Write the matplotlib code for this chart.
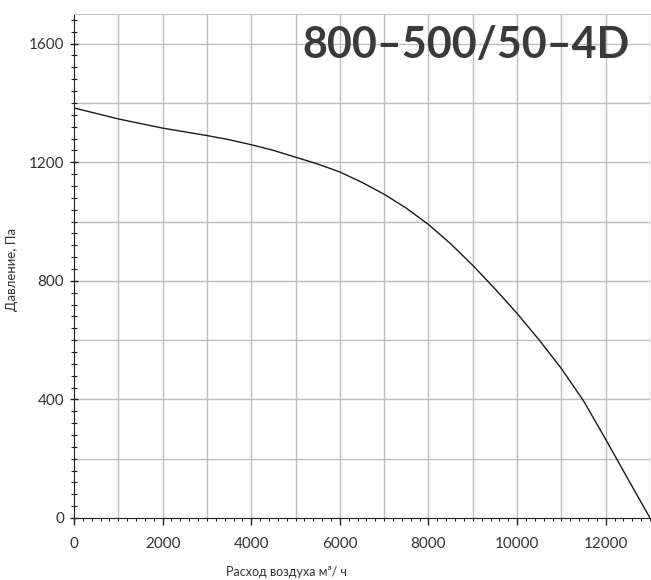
import matplotlib.pyplot as plt
from matplotlib.ticker import MultipleLocator

# расход, м3/ч и давление, Па
rashod = [0, 1000, 2000, 3000, 3500, 4000, 4500, 5000, 5500, 6000, 6500, 7000, 7500, 8000,
          8500, 9000, 9500, 10000, 10500, 11000, 11500, 12000, 12500, 13000]
davlenie = [1383, 1346, 1315, 1290, 1276, 1259, 1240, 1217, 1194, 1167, 1132, 1092, 1045, 990,
            925, 852, 773, 690, 600, 504, 395, 265, 132, 0]

xticks = [0, 2000, 4000, 6000, 8000, 10000, 12000]
yticks = [0, 400, 800, 1200, 1600]
title = '800–500/50–4D'

plt.rcParams['font.family'] = ['Lato', 'DejaVu Sans']

fig = plt.figure(figsize=(6.51, 5.80), dpi=100)
ax = fig.add_axes([0.1137, 0.1069, 0.8848, 0.869])

ax.plot(rashod, davlenie, color='#1a1a1a', linewidth=1.0, zorder=3)

ax.set_xlim(0, 13000)
ax.set_ylim(0, 1700)
ax.set_xticks(xticks)
ax.set_yticks(yticks)
ax.xaxis.set_minor_locator(MultipleLocator(200))
ax.yaxis.set_minor_locator(MultipleLocator(40))

# сетка
for gx in range(1000, 13001, 1000):
    ax.axvline(gx, color='#bdbdbd', linewidth=1.0, zorder=1)
for gy in range(200, 1700, 200):
    ax.axhline(gy, color='#bdbdbd', linewidth=1.0, zorder=1)

ax.spines['right'].set_visible(False)
ax.spines['top'].set_color('#c8c8c8')
ax.spines['left'].set_color('#222222')
ax.spines['bottom'].set_color('#222222')

ax.tick_params(axis='x', which='major', direction='out', length=5, width=1, pad=9,
               labelsize=11, colors='#222222', labelcolor='#333333')
ax.tick_params(axis='x', which='minor', direction='out', length=2, width=0.8, colors='#222222')
ax.tick_params(axis='y', which='major', direction='inout', length=6, width=1, pad=4,
               labelsize=11, colors='#222222', labelcolor='#333333')
ax.tick_params(axis='y', which='minor', direction='inout', length=4, width=0.8, colors='#222222')

fig.text(0.44, 0.0138, 'Расход воздуха м³/ ч', fontsize=9, color='#333333',
         ha='center', va='center')
fig.text(0.019, 0.536, 'Давление, Па', fontsize=9.5, color='#333333',
         ha='center', va='center', rotation=90)

ax.text(0.965, 0.938, title, transform=ax.transAxes, ha='right', va='center',
        fontsize=31, fontweight='bold', color='#3a3a3a', zorder=4)

fig.savefig('out.png', dpi=100)
